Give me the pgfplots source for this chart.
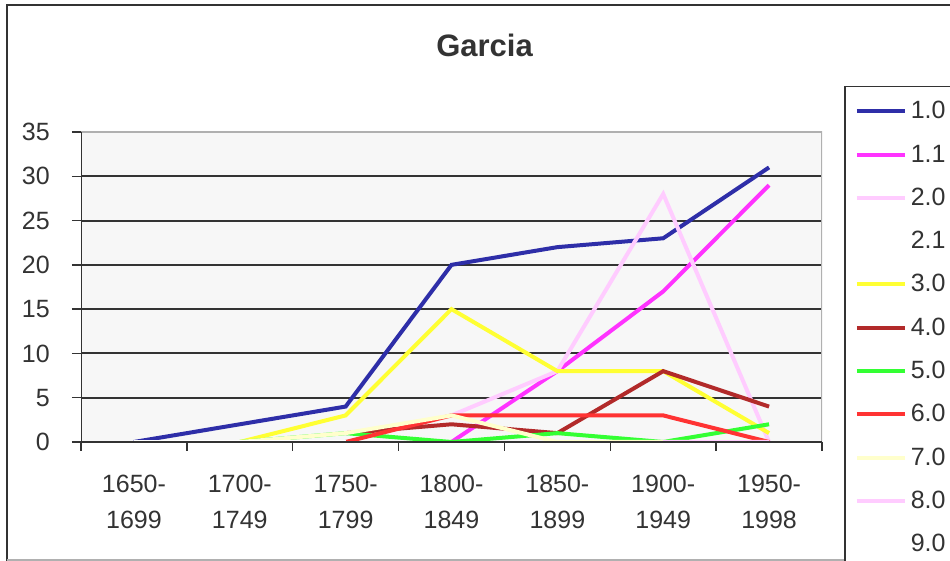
\documentclass[border=0pt]{standalone}
\usepackage{pgfplots}
\pgfplotsset{compat=1.18}
\usepackage{fontspec}
\setmainfont{Liberation Sans}
\definecolor{txt}{HTML}{333333}
\definecolor{ax}{HTML}{333333}
\definecolor{plotbg}{HTML}{F7F7F7}
\definecolor{topb}{HTML}{B0B0B0}
\definecolor{c10}{HTML}{2E2EA8}
\definecolor{c11}{HTML}{FF33FF}
\definecolor{c20}{HTML}{FFCCFF}
\definecolor{c30}{HTML}{FFFF33}
\definecolor{c40}{HTML}{B22A2A}
\definecolor{c50}{HTML}{33FF33}
\definecolor{c60}{HTML}{FF3333}
\definecolor{c70}{HTML}{FFFFCC}
\definecolor{c80}{HTML}{FFCCFF}
\begin{document}
\begin{tikzpicture}[x=1pt,y=1pt]
\path[use as bounding box, clip] (0,0) rectangle (950,561);
\fill[white] (0,0) rectangle (950,561);
\draw[ax, line width=2pt] (7,-5) -- (7,556) -- (960,556);
\draw[topb, line width=1.5pt] (7,1) -- (960,1);
\node[font=\bfseries\fontsize{31}{36}\selectfont, text=txt, anchor=base, inner sep=0pt] at (484.5,504) {Garcia};
\begin{axis}[at={(81pt,119pt)}, anchor=south west, scale only axis,
  width=741pt, height=310pt,
  xmin=-0.5, xmax=6.5, ymin=0, ymax=35,
  axis background/.style={fill=plotbg},
  axis line style={draw=none},
  ytick={0,5,...,35},
  ymajorgrids, grid style={ax, line width=2pt},
  xtick={-0.5,0.5,...,6.5}, xticklabels={},
  extra x ticks={0,1,2,3,4,5,6},
  extra x tick labels={{1650-\\1699},{1700-\\1749},{1750-\\1799},{1800-\\1849},{1850-\\1899},{1900-\\1949},{1950-\\1998}},
  extra x tick style={major tick length=0pt, grid=none},
  tick pos=left,
  tick align=outside, major tick length=9pt,
  tick style={ax, line width=1.5pt},
  tick label style={font=\fontsize{25}{36}\selectfont, text=txt},
  /pgf/number format/assume math mode=true,
  yticklabel style={anchor=east, inner sep=0pt, xshift=-22pt},
  xticklabel style={anchor=north, align=center, inner sep=0pt, yshift=-33pt},
  legend style={at={(axis description cs:1.0297,1.1484)}, anchor=north west,
    draw=ax, line width=1.5pt, fill=white, inner xsep=10pt, inner ysep=14pt,
    row sep=25.3pt, column sep=4pt, font=\fontsize{25}{30}\selectfont, text=txt,
    nodes={inner sep=0pt, text height=18pt, text depth=0pt}},
  legend cell align=left,
  legend image code/.code={\draw[#1] (0pt,-1.5pt) -- (48pt,-1.5pt);},
  every axis plot/.append style={line width=4pt},
]
\addplot[c10] coordinates {(0,0) (1,2) (2,4) (3,20) (4,22) (5,23) (6,31)};
\addlegendentry{1.0}
\addplot[c11] coordinates {(3,0) (4,8) (5,17) (6,29)};
\addlegendentry{1.1}
\addplot[c20] coordinates {(3,3) (4,8) (5,28) (6,0)};
\addlegendentry{2.0}
\addplot[white] coordinates {(0,0) (1,0)};
\addlegendentry{2.1}
\addplot[c30] coordinates {(1,0) (2,3) (3,15) (4,8) (5,8) (6,1)};
\addlegendentry{3.0}
\addplot[c40] coordinates {(2,1) (3,2) (4,1) (5,8) (6,4)};
\addlegendentry{4.0}
\addplot[c50] coordinates {(1,0) (2,1) (3,0) (4,1) (5,0) (6,2)};
\addlegendentry{5.0}
\addplot[c60] coordinates {(2,0) (3,3) (4,3) (5,3) (6,0)};
\addlegendentry{6.0}
\addplot[c70] coordinates {(1,0) (2,1) (3,3) (4,0) (5,0) (6,0)};
\addlegendentry{7.0}
\addplot[c80] coordinates {(5,0) (6,0)};
\addlegendentry{8.0}
\addplot[white] coordinates {(0,0) (1,0) (2,0)};
\addlegendentry{9.0}
\draw[topb, line width=1.5pt] (rel axis cs:0,1) -- (rel axis cs:1,1) -- (rel axis cs:1,0);
\draw[ax, line width=1.5pt] (rel axis cs:0,1) -- (rel axis cs:0,0) -- (rel axis cs:1,0);
\end{axis}
\end{tikzpicture}
\end{document}
